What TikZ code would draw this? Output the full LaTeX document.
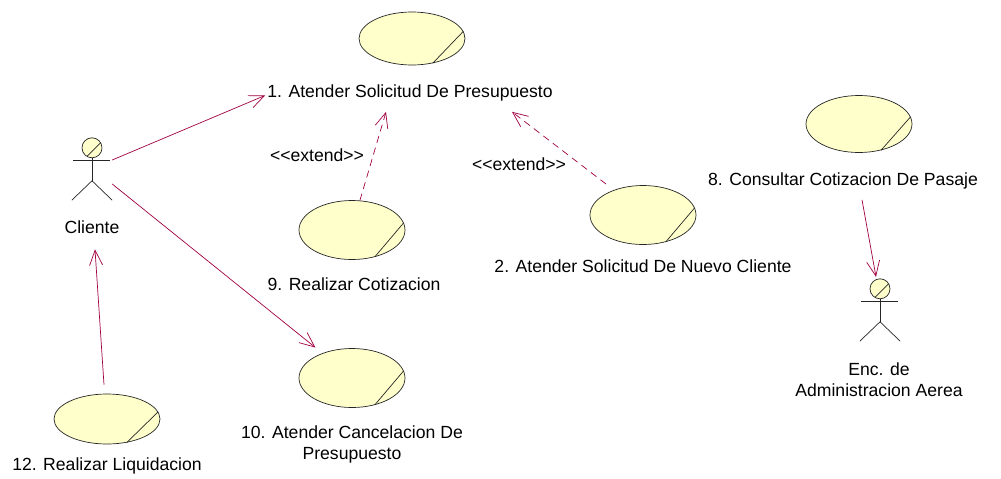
\documentclass[tikz,border=0pt]{standalone}
\usepackage{fontspec}
\setmainfont{Liberation Sans}
\usetikzlibrary{shapes.geometric,arrows.meta,calc}
\definecolor{ucfill}{RGB}{255,255,204}
\definecolor{assoccol}{RGB}{160,0,64}
\newcommand{\stickfig}[1]{%
  \draw[fig] ($(#1.north)+(0,20)$) -- ($(#1.north)+(0,43)$);
  \draw[fig] ($(#1.north)+(-19,23)$) -- ($(#1.north)+(18,23)$);
  \draw[fig] (#1.south west) -- ($(#1.north)+(0,43)$) -- (#1.south east);
  \draw[fig,fill=ucfill] ($(#1.north)+(0,10)$) circle (10);
  \draw[fig] ($(#1.north)+(0,10)+(120:10)$) -- ($(#1.north)+(0,10)+(-30:10)$);
}
\begin{document}
\begin{tikzpicture}[x=1pt,y=-1pt,
  uc/.style={ellipse,draw=black!85,fill=ucfill,line width=0.7pt,inner sep=0pt,
    minimum width=106pt,minimum height=58pt},
  lbl/.style={inner sep=0pt,anchor=base,font=\fontsize{17.6}{21}\selectfont},
  actorbox/.style={inner sep=0pt,minimum width=40pt,minimum height=62pt},
  assoc/.style={draw=assoccol,line width=0.7pt,-{Straight Barb[length=15pt,width=13pt]}},
  ext/.style={assoc,dash pattern=on 7pt off 5pt},
  fig/.style={draw=black!85,line width=0.7pt}]
\useasboundingbox (0,0) rectangle (1001,479);

% use cases
\node[uc,minimum height=53pt] (u1) at (412,38.5) {};
\node[lbl] (l1) at (410,97) {1. Atender Solicitud De Presupuesto};
\node[uc,minimum height=59pt] (u9) at (352,230) {};
\node[lbl] (l9) at (354,290) {9. Realizar Cotizacion};
\node[uc,minimum height=50pt] (u12) at (107,419) {};
\node[lbl] (l12) at (107,470) {12. Realizar Liquidacion};
\node[uc,minimum height=59pt] (u2) at (643,215) {};
\node[lbl] (l2) at (643,272) {2. Atender Solicitud De Nuevo Cliente};
\node[uc,minimum height=57pt] (u8) at (859,124) {};
\node[lbl] (l8) at (843,185) {8. Consultar Cotizacion De Pasaje};
\node[uc,minimum height=59pt] (u10) at (352,378) {};
\node[lbl] (l10) at (352,438) {\begin{tabular}[t]{@{}c@{}}10. Atender Cancelacion De\\Presupuesto\end{tabular}};
\foreach \u in {u1,u9,u12,u2,u8,u10} \draw[fig] (\u.8) -- (\u.-50);

% actors
\node[actorbox] (cliente) at (92,169) {};
\stickfig{cliente}
\node[lbl] (lcliente) at (92,233) {Cliente};
\node[actorbox] (enc) at (880,310) {};
\stickfig{enc}
\node[lbl] (lenc) at (879,375) {\begin{tabular}[t]{@{}c@{}}Enc. de\\Administracion Aerea\end{tabular}};

% extend labels
\node[lbl] (e1) at (317,161) {<{}<extend>{}>};
\node[lbl] (e2) at (519,170) {<{}<extend>{}>};

% connectors
\draw[assoc] ($(cliente.east)+(0,-9)$) -- ($(l1.west)+(-2,3)$);
\draw[assoc,shorten >=9pt] ($(cliente.east)+(0,15)$) -- (u10.140);
\draw[assoc] ($(u12.north)+(-3,-9)$) -- ($(lcliente.south)+(3,16)$);
\draw[ext] (u9.75) -- ($(l1.south)+(-24,11)$);
\draw[ext] ($(u2.center)+(-37,-31)$) -- ($(l1.south)+(102,11)$);
\draw[assoc] ($(l8.south)+(19,11)$) -- ($(enc.north)+(-4,-2)$);
\end{tikzpicture}
\end{document}
